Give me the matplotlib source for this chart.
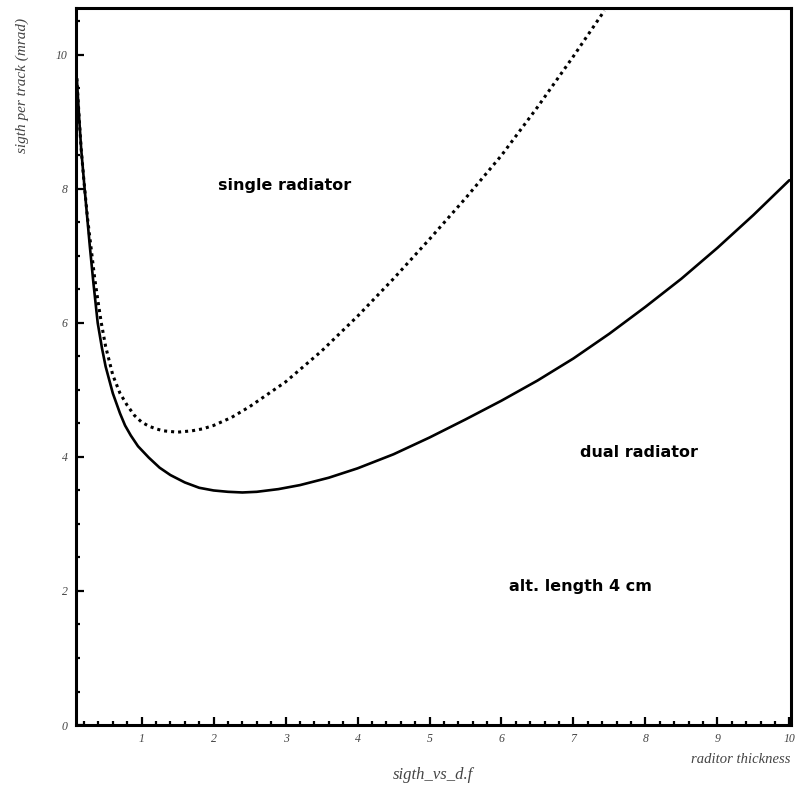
import matplotlib
matplotlib.use('Agg')
import matplotlib.pyplot as plt
from matplotlib.ticker import MultipleLocator

# dual radiator (solid curve)
dual_x = [0.10, 0.13, 0.16, 0.21, 0.28, 0.33, 0.39, 0.45, 0.50, 0.60, 0.70, 0.77, 0.85, 0.95,
          1.10, 1.25, 1.40, 1.60, 1.80, 2.00, 2.20, 2.40, 2.60, 2.90, 3.20, 3.60, 4.00, 4.50,
          5.00, 5.50, 6.00, 6.50, 7.00, 7.50, 8.00, 8.50, 9.00, 9.50, 10.00]
dual_y = [9.65, 9.10, 8.60, 7.98, 7.15, 6.60, 6.00, 5.62, 5.35, 4.95, 4.65, 4.47, 4.32, 4.16,
          3.99, 3.84, 3.73, 3.62, 3.54, 3.50, 3.48, 3.47, 3.48, 3.52, 3.58, 3.69, 3.83, 4.04,
          4.29, 4.56, 4.84, 5.14, 5.47, 5.84, 6.24, 6.66, 7.12, 7.61, 8.13]

# single radiator (dotted curve)
single_x = [0.10, 0.13, 0.16, 0.20, 0.25, 0.30, 0.35, 0.40, 0.44, 0.50, 0.60, 0.70, 0.80, 0.90,
            1.00, 1.10, 1.20, 1.30, 1.50, 1.70, 1.85, 2.00, 2.25, 2.50, 3.00, 3.50, 4.00, 4.50,
            5.00, 5.50, 6.00, 6.50, 7.00, 7.43]
single_y = [9.65, 9.10, 8.60, 8.10, 7.55, 7.10, 6.65, 6.28, 6.00, 5.65, 5.22, 4.95, 4.77, 4.62,
            4.52, 4.46, 4.42, 4.39, 4.37, 4.39, 4.42, 4.47, 4.59, 4.75, 5.12, 5.58, 6.10, 6.66,
            7.25, 7.86, 8.50, 9.22, 9.98, 10.66]

labels = ['single radiator', 'dual radiator', 'alt. length 4 cm']
label_x = [2.99, 7.91, 7.10]
label_y = [8.05, 4.07, 2.06]

fig = plt.figure(figsize=(7.98, 7.89), dpi=100)
ax = fig.add_axes([0.0952, 0.0811, 0.8958, 0.9088])

ax.plot(dual_x, dual_y, color='black', lw=1.9, solid_capstyle='round', solid_joinstyle='round')
ax.plot(single_x, single_y, color='black', lw=2.2, linestyle=(0, (1, 1.3)), dash_capstyle='butt')

for t, x, y in zip(labels, label_x, label_y):
    ax.text(x, y, t, ha='center', va='center', fontsize=11.5, fontweight='bold',
            family='DejaVu Sans', color='black')

ax.set_xlim(0.088, 10.02)
ax.set_ylim(0, 10.7)

ax.xaxis.set_major_locator(MultipleLocator(1))
ax.xaxis.set_minor_locator(MultipleLocator(0.2))
ax.yaxis.set_major_locator(MultipleLocator(2))
ax.yaxis.set_minor_locator(MultipleLocator(0.5))

ax.tick_params(which='both', direction='in', top=False, right=False, width=1.6, color='black',
               labelsize=8.5, labelcolor='#444444')
ax.tick_params(which='major', length=6, pad=6)
ax.tick_params(which='minor', length=3)

for lab in ax.get_xticklabels() + ax.get_yticklabels():
    lab.set_family('Liberation Serif')
    lab.set_style('italic')

for s in ax.spines.values():
    s.set_linewidth(2.2)

fig.text(0.028, 0.892, 'sigth per track (mrad)', rotation=90, ha='center', va='center',
         family='Liberation Serif', style='italic', fontsize=11, color='#444444')
fig.text(0.543, 0.018, 'sigth_vs_d.f', ha='center', va='center',
         family='Liberation Serif', style='italic', fontsize=12, color='#444444')
fig.text(0.991, 0.037, 'raditor thickness', ha='right', va='center',
         family='Liberation Serif', style='italic', fontsize=10.5, color='#444444')

fig.savefig('out.png', dpi=100)
